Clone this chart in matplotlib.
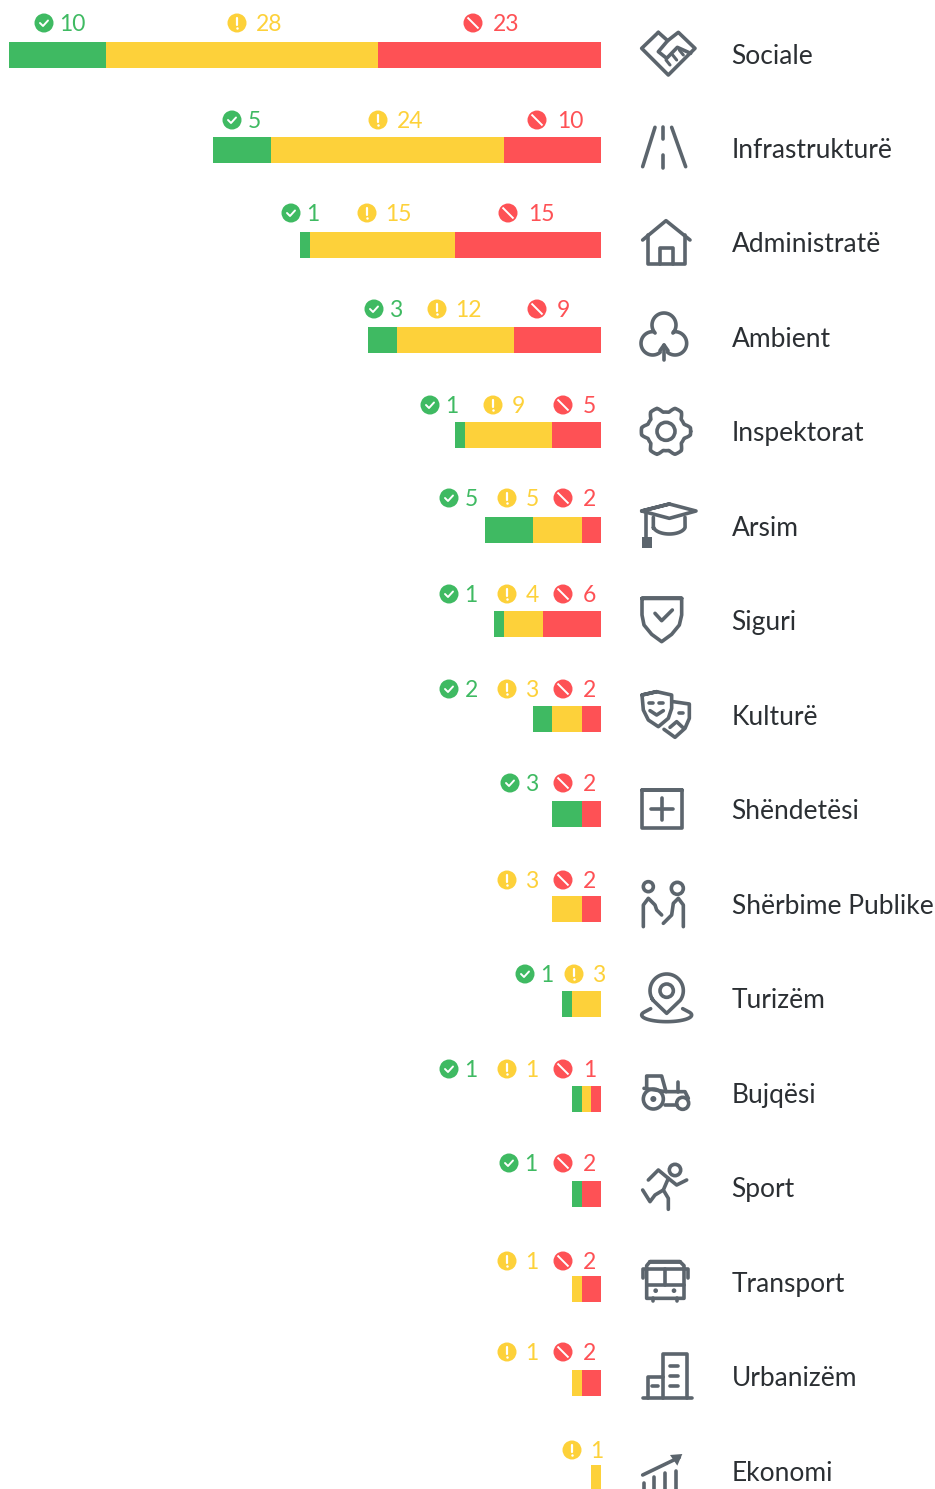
import numpy as np
import matplotlib
matplotlib.use("Agg")
import matplotlib.pyplot as plt
from matplotlib.patches import Circle, Rectangle, Polygon

# ---------- data ----------
categories = ["Sociale", "Infrastrukturë", "Administratë", "Ambient", "Inspektorat", "Arsim",
              "Siguri", "Kulturë", "Shëndetësi", "Shërbime Publike", "Turizëm", "Bujqësi",
              "Sport", "Transport", "Urbanizëm", "Ekonomi"]
# widths of the bars as drawn
green_bar = [10, 6, 1, 3, 1, 5, 1, 2, 3, 0, 1, 1, 1, 0, 0, 0]
yellow_bar = [28, 24, 15, 12, 9, 5, 4, 3, 0, 3, 3, 1, 0, 1, 1, 1]
red_bar = [23, 10, 15, 9, 5, 2, 6, 2, 2, 2, 0, 1, 2, 2, 2, 0]
# numbers printed above the bars
green_label = [10, 5, 1, 3, 1, 5, 1, 2, 3, None, 1, 1, 1, None, None, None]
yellow_label = [28, 24, 15, 12, 9, 5, 4, 3, None, 3, 3, 1, None, 1, 1, 1]
red_label = [23, 10, 15, 9, 5, 2, 6, 2, 2, 2, None, 1, 2, 2, 2, None]

# ---------- layout (pixels) ----------
W, H = 935, 1489
GREEN, YELLOW, RED = "#3FBA62", "#FDD13A", "#FE5155"
ICON = "#5C656D"
TEXT = "#2B2F33"
FONT = "Lato"
label_row_y = [23, 120, 213, 309, 405, 498, 594, 689, 783, 880, 974, 1069, 1163, 1261, 1352, 1450]
green_x = [44, 232, 291, 374, 430, 449, 449, 449, 510, None, 525, 449, 509, None, None, None]
yellow_x = [237, 378, 367, 437, 493, 507, 507, 507, None, 507, 574, 507, None, 507, 507, 572]
red_x = [473, 537, 508, 537, 563, 563, 563, 563, 563, 563, None, 563, 563, 563, 563, None]
cat_x, cat_y0, cat_dy = 731.5, 53.5, 94.47
bar_left, bar_right, bar_y0, bar_dy, bar_h = 9, 601, 55.2, 94.87, 26

fig = plt.figure(figsize=(W / 100, H / 100), dpi=100, facecolor="white")

# bars: units along x, row index along y
total = np.array(green_bar) + np.array(yellow_bar) + np.array(red_bar)
ax = fig.add_axes([bar_left / W, 0, (bar_right - bar_left) / W, 1])
ax.set_xlim(-61, 0)
ax.set_ylim((H - bar_y0) / bar_dy, -bar_y0 / bar_dy)
ax.axis("off")
rows = np.arange(len(categories))
rel_h = bar_h / bar_dy
g, y_, r = np.array(green_bar), np.array(yellow_bar), np.array(red_bar)
ax.barh(rows, g, left=-total, height=rel_h, color=GREEN, linewidth=0)
ax.barh(rows, y_, left=-total + g, height=rel_h, color=YELLOW, linewidth=0)
ax.barh(rows, r, left=-total + g + y_, height=rel_h, color=RED, linewidth=0)

# overlay in pixel coordinates for labels and icons
ov = fig.add_axes([0, 0, 1, 1])
ov.set_xlim(0, W)
ov.set_ylim(H, 0)
ov.axis("off")
ov.patch.set_alpha(0)

LW = 2.6


def line(o, pts, lw=LW, color=ICON, closed=False):
    p = np.array(pts, float) / 3 + np.array(o)
    if closed:
        p = np.vstack([p, p[:2]])
    ov.plot(p[:, 0], p[:, 1], color=color, lw=lw, solid_capstyle="round",
            solid_joinstyle="round", clip_on=True)


def circ(o, c, r, fill=False, lw=LW):
    ov.add_patch(Circle((c[0] / 3 + o[0], c[1] / 3 + o[1]), r / 3, fill=fill,
                        facecolor=ICON if fill else "none", edgecolor=ICON,
                        lw=0 if fill else lw))


def arc(c, r, a1, a2, ry=None, n=40):
    t = np.radians(np.linspace(a1, a2, n))
    ry = r if ry is None else ry
    return list(zip(c[0] + r * np.cos(t), c[1] - ry * np.sin(t)))


# status badges and numbers
def badge(x, y, kind, value, color, dx):
    ov.add_patch(Circle((x, y), 9.5, facecolor=color, edgecolor="none"))
    if kind == "ok":
        ov.plot([x - 4, x - 1, x + 4], [y, y + 3, y - 2.5], color="white", lw=1.4,
                solid_capstyle="round", solid_joinstyle="round")
    elif kind == "warn":
        ov.plot([x, x], [y - 5, y + 1.5], color="white", lw=1.6, solid_capstyle="round")
        ov.plot([x], [y + 4.8], "o", color="white", ms=1.8, mew=0)
    else:
        ov.plot([x - 4.8, x + 4.8], [y - 4.8, y + 4.8], color="white", lw=1.4)
    ov.text(x + dx, y - 0.5, str(value), color=color, fontsize=16.5, family=FONT,
            ha="left", va="center_baseline")


for i in rows:
    y = label_row_y[i]
    if green_x[i] is not None:
        badge(green_x[i], y, "ok", green_label[i], GREEN, 15.5)
    if yellow_x[i] is not None:
        badge(yellow_x[i], y, "warn", yellow_label[i], YELLOW, 18.5)
    if red_x[i] is not None:
        badge(red_x[i], y, "no", red_label[i], RED, 20)
    ov.text(cat_x, cat_y0 + cat_dy * i, categories[i], color=TEXT, fontsize=19, family=FONT,
            ha="left", va="center_baseline")

# ---------- icons (drawn from zoom coordinates, 3x) ----------
# Sociale
o = (620, 0)
line(o, [(115, 97), (65, 145), (145, 225), (225, 145), (175, 97), (143, 122)])
line(o, [(115, 97), (143, 122), (115, 155), (140, 175), (172, 142), (212, 160)])
line(o, [(150, 195), (138, 180)], lw=2.2)
line(o, [(170, 180), (158, 165)], lw=2.2)
line(o, [(190, 165), (178, 150)], lw=2.2)
# Infrastrukturë
line(o, [(105, 382), (68, 500)])
line(o, [(155, 382), (197, 500)])
line(o, [(130, 382), (130, 418)])
line(o, [(130, 465), (130, 505)])
# Administratë
line(o, [(68, 720), (138, 662), (210, 720)])
line(o, [(85, 705), (85, 792), (195, 792), (195, 705)])
line(o, [(120, 792), (120, 745), (160, 745), (160, 792)])

o = (620, 280)
# Ambient
line(o, arc((132, 135), 36, 222, -42) + arc((165, 190), 35, 95, -130))
line(o, arc((98, 190), 35, 85, 310))
line(o, [(132, 195), (132, 240)])
line(o, [(120, 212), (132, 195), (144, 212)])
# Inspektorat
t = np.linspace(0, 2 * np.pi, 240)
gear_r = 66 + 8 * np.clip(1.6 * np.cos(6 * t), -1, 1)
line(o, list(zip(138 + gear_r * np.cos(t), 454 - gear_r * np.sin(t))))
circ(o, (138, 454), 27)
# Arsim
line(o, [(65, 693), (148, 672), (228, 693), (148, 715)], closed=True)
line(o, [(100, 712), (100, 745)] + arc((148, 738), 48, 190, 350, ry=24) + [(195, 712)])
line(o, [(78, 695), (78, 775)])
ov.add_patch(Rectangle((65 / 3 + o[0], 772 / 3 + o[1]), 32 / 3, 31 / 3, facecolor=ICON, edgecolor="none"))

o = (620, 580)
# Siguri
line(o, [(66, 55), (185, 55), (185, 105), (178, 135), (155, 163), (125, 185), (95, 163),
         (72, 135), (66, 105)], closed=True)
line(o, [(105, 100), (125, 122), (157, 90)])
# Kulturë
line(o, [(66, 345), (110, 335), (155, 345), (155, 385), (145, 415), (115, 440), (85, 420),
         (70, 390)], closed=True)
line(o, [(160, 365), (208, 372), (208, 415), (195, 445), (165, 472), (132, 448)])
line(o, [(86, 368), (98, 368)])
line(o, [(116, 368), (128, 368)])
line(o, [(90, 392), (110, 405), (130, 392)])
line(o, [(178, 400), (190, 400)])
line(o, [(150, 442), (170, 425), (188, 442)])
# Shëndetësi
line(o, [(66, 630), (185, 630), (185, 745), (66, 745)], closed=True)
line(o, [(92, 688), (158, 688)])
line(o, [(125, 655), (125, 720)])
# Shërbime Publike
circ(o, (85, 920), 15)
circ(o, (172, 925), 18)
line(o, [(70, 1040), (70, 975), (85, 955), (105, 975), (110, 990), (125, 1005)])
line(o, [(130, 1030), (155, 1005), (160, 970), (175, 955), (190, 975), (190, 1040)])

o = (620, 950)
# Turizëm
line(o, arc((140, 122), 50, 215, -35) + [(140, 190)], closed=True)
circ(o, (140, 122), 20)
line(o, [(92, 176)] + arc((140, 195), 75, 150, 390, ry=20) + [(188, 176)])
# Bujqësi
circ(o, (100, 447), 30)
circ(o, (100, 447), 9, fill=True)
circ(o, (188, 460), 18)
line(o, [(80, 415), (80, 378), (125, 378), (138, 425), (195, 425), (205, 445)])
line(o, [(72, 415), (138, 425)])
line(o, [(135, 465), (170, 465)])
line(o, [(175, 395), (175, 425)])
# Sport
circ(o, (165, 660), 17)
line(o, [(85, 690), (115, 660), (145, 685), (130, 720), (145, 745), (145, 778)])
line(o, [(145, 685), (170, 705), (200, 690)])
line(o, [(130, 720), (105, 735), (90, 755), (68, 720)])

o = (620, 1230)
# Transport
line(o, [(90, 95), (180, 95), (192, 107), (192, 205), (80, 205), (80, 107)], closed=True)
line(o, [(80, 118), (192, 118)])
line(o, [(80, 165), (192, 165)])
line(o, [(135, 118), (135, 165)])
line(o, [(68, 143), (68, 118), (80, 118)])
line(o, [(204, 143), (204, 118), (192, 118)])
circ(o, (107, 182), 7, fill=True)
circ(o, (162, 182), 7, fill=True)
line(o, [(98, 205), (98, 212)])
line(o, [(170, 205), (170, 212)])
# Urbanizëm
line(o, [(68, 505), (215, 505)])
line(o, [(128, 505), (128, 372), (202, 372), (202, 505)])
line(o, [(85, 505), (85, 440), (128, 440)])
for yy in (408, 438, 468):
    line(o, [(150, yy), (175, yy)])
line(o, [(95, 468), (115, 468)])
# Ekonomi
line(o, [(68, 735), (178, 682)])
ov.add_patch(Polygon([(150 / 3 + o[0], 675 / 3 + o[1]), (187 / 3 + o[0], 672 / 3 + o[1]),
                      (172 / 3 + o[0], 707 / 3 + o[1])], facecolor=ICON, edgecolor="none"))
line(o, [(72, 760), (72, 790)])
line(o, [(103, 742), (103, 790)])
line(o, [(135, 728), (135, 790)])
line(o, [(168, 722), (168, 790)])

fig.savefig("out.png", dpi=100, facecolor="white")
